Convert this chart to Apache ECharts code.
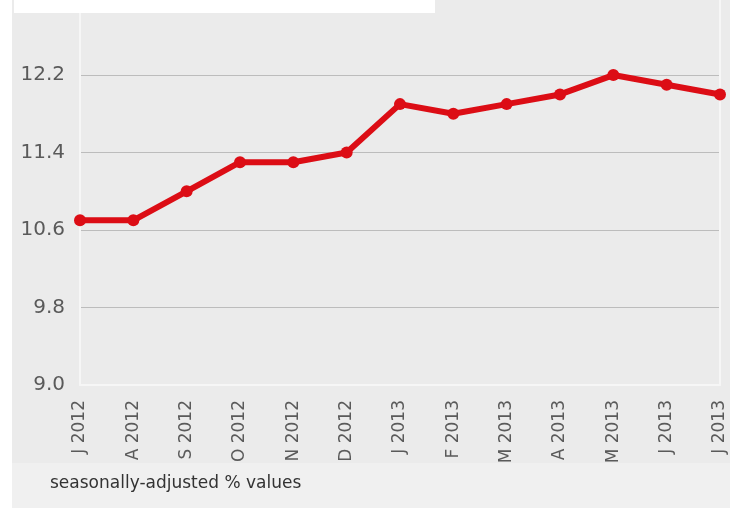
<!DOCTYPE html>
<html>
<head>
<meta charset="utf-8">
<script src="https://cdn.jsdelivr.net/npm/echarts@6/dist/echarts.min.js"></script>
<style>
  html, body { margin: 0; padding: 0; background: #ffffff; }
  #chart { width: 730px; height: 508px; }
</style>
</head>
<body>
<div id="chart"></div>
<script>
// monthly labels, Jul 2012 .. Jul 2013
const categories = ['J 2012', 'A 2012', 'S 2012', 'O 2012', 'N 2012', 'D 2012',
  'J 2013', 'F 2013', 'M 2013', 'A 2013', 'M 2013', 'J 2013', 'J 2013']
const rates = [10.7, 10.7, 11.0, 11.3, 11.3, 11.4, 11.9, 11.8, 11.9, 12.0, 12.2, 12.1, 12.0]
const yMin = 9.0
const yMax = 12.975
const yStep = 0.8
const footNote = 'seasonally-adjusted % values'

const frame = { show: true, lineStyle: { color: '#f6f6f6', width: 2 } }

const chart = echarts.init(document.getElementById('chart'))
chart.setOption({
  animation: false,
  backgroundColor: '#ffffff',
  graphic: [
    // grey panel behind everything
    { type: 'rect', z: -10, silent: true, shape: { x: 12, y: 0, width: 718, height: 463 }, style: { fill: '#ebebeb' } },
    { type: 'rect', z: -10, silent: true, shape: { x: 12, y: 463, width: 718, height: 45 }, style: { fill: '#f0f0f0' } },
    // white title box (cropped at top)
    { type: 'rect', z: 100, silent: true, shape: { x: 14, y: 0, width: 421, height: 13 }, style: { fill: '#ffffff' } },
    { type: 'text', z: 100, silent: true, left: 50, top: 475,
      style: { text: footNote, fill: '#333333', font: '17px "DejaVu Sans"' } }
  ],
  grid: { left: 80, right: 10, top: 0, bottom: 123 },
  xAxis: {
    type: 'category',
    data: categories,
    boundaryGap: false,
    axisLine: frame,
    axisTick: { show: false },
    axisLabel: {
      rotate: 90, margin: 15, interval: 0,
      color: '#5a5a5a', fontFamily: 'DejaVu Sans', fontSize: 17
    }
  },
  yAxis: [{
    type: 'value',
    min: yMin, max: yMax, interval: yStep,
    axisLine: frame,
    axisTick: { show: false },
    splitLine: { showMinLine: false, showMaxLine: false, lineStyle: { color: '#bcbcbc', width: 1 } },
    axisLabel: {
      margin: 15, showMaxLabel: false,
      color: '#5a5a5a', fontFamily: 'DejaVu Sans', fontSize: 20,
      formatter: v => v.toFixed(1)
    }
  }, {
    // right-hand frame line only
    type: 'value', position: 'right',
    min: yMin, max: yMax, interval: yStep,
    axisLine: frame,
    axisTick: { show: false },
    axisLabel: { show: false },
    splitLine: { show: false }
  }],
  series: [{
    type: 'line',
    data: rates,
    symbol: 'circle',
    symbolSize: 12,
    lineStyle: { color: '#dc0d15', width: 6 },
    itemStyle: { color: '#dc0d15' }
  }]
})
</script>
</body>
</html>
